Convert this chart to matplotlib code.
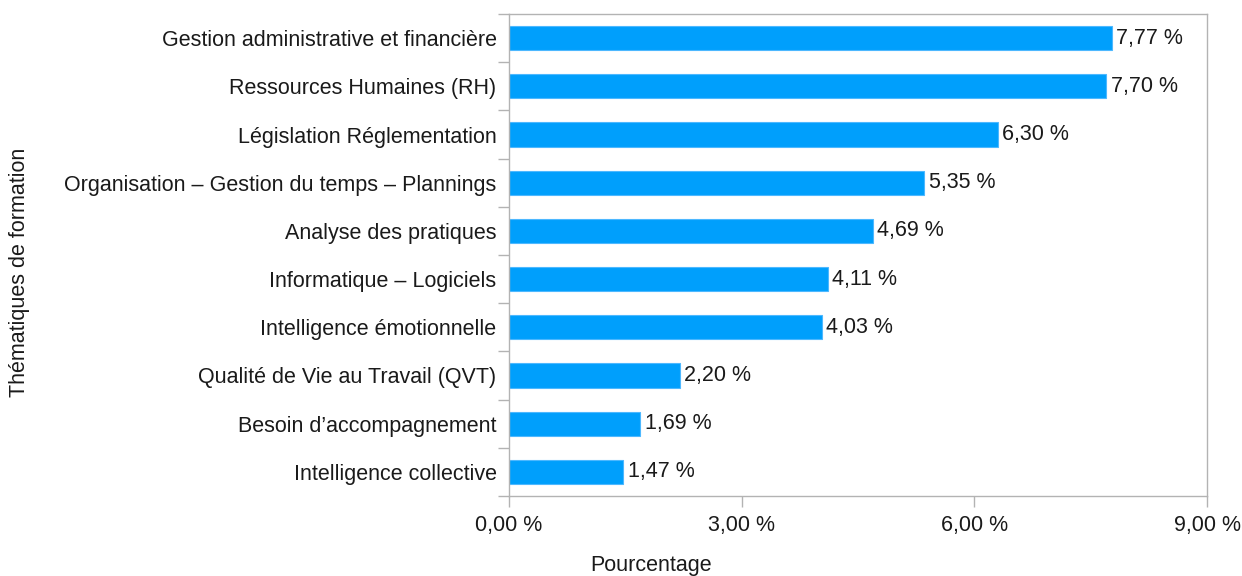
import numpy as np
import matplotlib.pyplot as plt
from matplotlib.ticker import FixedLocator

# Data
themes = [
    "Gestion administrative et financière",
    "Ressources Humaines (RH)",
    "Législation Réglementation",
    "Organisation – Gestion du temps – Plannings",
    "Analyse des pratiques",
    "Informatique – Logiciels",
    "Intelligence émotionnelle",
    "Qualité de Vie au Travail (QVT)",
    "Besoin d’accompagnement",
    "Intelligence collective",
]
pourcentages = [7.77, 7.70, 6.30, 5.35, 4.69, 4.11, 4.03, 2.20, 1.69, 1.47]
x_ticks = [0, 3, 6, 9]

plt.rcParams['font.family'] = ['Liberation Sans', 'DejaVu Sans']
plt.rcParams['font.size'] = 15.5

fig = plt.figure(figsize=(12.42, 5.76), dpi=100)
ax = fig.add_axes([509 / 1242, 1 - 496 / 576, 698 / 1242, 482 / 576])

y = np.arange(len(themes))[::-1]
ax.barh(y, pourcentages, height=0.5, color='#009ffc', edgecolor='#4db8ff', linewidth=0.8)

def fmt(v):
    return f"{v:.2f}".replace('.', ',') + " %"

for yi, v in zip(y, pourcentages):
    ax.text(v + 0.06, yi, fmt(v), va='center', ha='left', color='#1a1a1a')

ax.set_xlim(0, 9)
ax.set_ylim(-0.5, len(themes) - 0.5)
ax.set_xticks(x_ticks)
ax.set_xticklabels([fmt(t) for t in x_ticks], color='#1a1a1a')
ax.set_yticks(y)
ax.set_yticklabels(themes, color='#1a1a1a')

# ticks on category boundaries, labels at centres
ax.yaxis.set_minor_locator(FixedLocator(np.arange(-0.5, len(themes), 1)))
ax.tick_params(axis='y', which='major', length=0, pad=9)
ax.tick_params(axis='y', which='minor', length=8, color='#b3b3b3', width=1)
ax.tick_params(axis='x', length=8, color='#b3b3b3', width=1, pad=6)

for s in ax.spines.values():
    s.set_color('#b3b3b3')
    s.set_linewidth(1)

# axis titles
fig.text(651 / 1242, 1 - 565 / 576, 'Pourcentage', ha='center', va='center', color='#1a1a1a')
fig.text(20 / 1242, 1 - 272 / 576, 'Thématiques de formation', ha='center', va='center',
         rotation=90, color='#1a1a1a')

fig.savefig('out.png', dpi=100)
